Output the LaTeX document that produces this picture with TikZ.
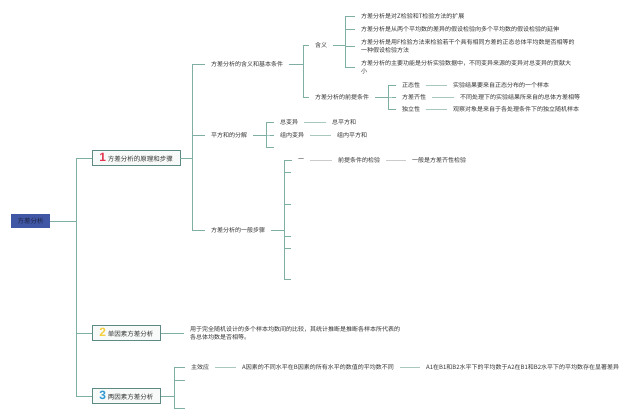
\documentclass[tikz,border=0pt]{standalone}
\usepackage{fontspec}
\setmainfont{Noto Sans CJK SC}
\newfontfamily\numfont{Liberation Sans}
\definecolor{txt}{HTML}{333333}
\definecolor{brc}{HTML}{7FAEA3}
\definecolor{pairc}{HTML}{A8C8BF}
\definecolor{greyc}{HTML}{C9CCCB}
\definecolor{boxc}{HTML}{5E8A84}
\definecolor{boxf}{HTML}{F7FAF9}
\definecolor{rootf}{HTML}{4057A6}
\definecolor{roott}{HTML}{1C2340}
\definecolor{numr}{HTML}{E2344E}
\definecolor{numy}{HTML}{F4D03F}
\definecolor{numb}{HTML}{2E98D4}
\begin{document}
\begin{tikzpicture}[x=1pt,y=-1pt,
  leaf/.style={anchor=west, inner xsep=6pt, inner ysep=1pt, font=\fontsize{6}{7.8}\selectfont, text=txt, align=left},
  mainbox/.style={draw=boxc, fill=boxf, line width=0.6pt, anchor=west, minimum height=15pt, inner xsep=7pt, inner ysep=0pt, font=\fontsize{6.5}{7}\selectfont, text=txt},
  rootbox/.style={fill=rootf, minimum width=39pt, minimum height=14pt, inner sep=0pt, font=\fontsize{6.5}{7}\selectfont, text=roott},
  br/.style={draw=brc, line width=0.7pt},
  sub/.style={draw=brc, line width=0.5pt},
  pair/.style={draw=pairc, line width=0.5pt},
  gline/.style={draw=greyc, line width=0.6pt}]
\useasboundingbox (0,0) rectangle (640,419);
\fill[white] (0,0) rectangle (640,419);

% root and main nodes
\node[rootbox] (root) at (30.5,221) {方差分析};
\node[mainbox] (n1) at (92,158) {{\color{numr}\numfont\fontsize{12}{12}\selectfont\bfseries 1}\hspace{2pt}方差分析的原理和步骤};
\node[mainbox] (n2) at (92,333) {{\color{numy}\numfont\fontsize{12}{12}\selectfont\bfseries 2}\hspace{2pt}单因素方差分析};
\node[mainbox] (n3) at (92,396) {{\color{numb}\numfont\fontsize{12}{12}\selectfont\bfseries 3}\hspace{2pt}两因素方差分析};
\draw[br] (root.east) -- ++(26,0) |- (n1.west);
\draw[br] (root.east) -- ++(26,0) |- (n2.west);
\draw[br] (root.east) -- ++(26,0) |- (n3.west);

% level 2 under node 1
\node[leaf] (a1) at (205,64) {方差分析的含义和基本条件};
\node[leaf] (b1) at (205,135) {平方和的分解};
\node[leaf] (c1) at (205,230) {方差分析的一般步骤};
\draw[br] (n1.east) -- ++(12,0) |- (a1.west);
\draw[br] (n1.east) -- ++(12,0) |- (b1.west);
\draw[br] (n1.east) -- ++(12,0) |- (c1.west);

% 含义 and 前提条件
\node[leaf] (h) at (309,45) {含义};
\node[leaf] (q) at (309,97) {方差分析的前提条件};
\draw[sub] (a1.east) -- ++(14,0) |- (h.west);
\draw[sub] (a1.east) -- ++(14,0) |- (q.west);

\node[leaf] (h1) at (355,16) {方差分析是对Z检验和T检验方法的扩展};
\node[leaf] (h2) at (355,29) {方差分析是从两个平均数的差异的假设检验向多个平均数的假设检验的延伸};
\node[leaf] (h3) at (355,46.5) {方差分析是用F检验方法来检验若干个具有相同方差的正态总体平均数是否相等的\\一种假设检验方法};
\node[leaf] (h4) at (355,67) {方差分析的主要功能是分析实验数据中，不同变异来源的变异对总变异的贡献大\\小};
\draw[sub] (h.east) -- ++(12,0) |- (h1.west);
\draw[sub] (h.east) -- ++(12,0) |- (h2.west);
\draw[sub] (h.east) -- ++(12,0) |- (h3.west);
\draw[sub] (h.east) -- ++(12,0) |- (h4.west);

\node[leaf] (q1) at (396,85) {正态性};
\node[leaf] (q2) at (396,97) {方差齐性};
\node[leaf] (q3) at (396,109) {独立性};
\draw[sub] (q.east) -- ++(13,0) |- (q1.west);
\draw[sub] (q.east) -- ++(13,0) |- (q2.west);
\draw[sub] (q.east) -- ++(13,0) |- (q3.west);
\node[leaf] (v1) at (447,85) {实验结果要来自正态分布的一个样本};
\node[leaf] (v2) at (454,97) {不同处理下的实验结果所来自的总体方差相等};
\node[leaf] (v3) at (447,109) {观察对象是来自于各处理条件下的独立随机样本};
\draw[pair] (q1.east) -- (v1.west);
\draw[pair] (q2.east) -- (v2.west);
\draw[pair] (q3.east) -- (v3.west);

% 平方和的分解
\node[leaf] (s1) at (274,122) {总变异};
\node[leaf] (s2) at (274,135) {组内变异};
\coordinate (s3) at (274,147);
\draw[sub] (b1.east) -- ++(13,0) |- (s1.west);
\draw[sub] (b1.east) -- ++(13,0) |- (s2.west);
\draw[sub] (b1.east) -- ++(13,0) |- (s3);
\node[leaf] (t1) at (326,122) {总平方和};
\node[leaf] (t2) at (331,135) {组内平方和};
\draw[pair] (s1.east) -- (t1.west);
\draw[pair] (s2.east) -- (t2.west);

% 一般步骤
\node[leaf] (k1) at (292,160) {一};
\coordinate (k2) at (291,172);
\coordinate (k3) at (291,204);
\coordinate (k4) at (291,236);
\coordinate (k5) at (291,248);
\coordinate (k6) at (291,279);
\draw[sub] (c1.east) -- ++(13,0) |- (k1.west);
\foreach \k in {k2,k3,k4,k5,k6} \draw[sub] (c1.east) -- ++(13,0) |- (\k);
\node[leaf] (m1) at (332,160) {前提条件的检验};
\node[leaf] (m2) at (406,160) {一般是方差齐性检验};
\draw[gline] (k1.east) -- (m1.west);
\draw[gline] (m1.east) -- (m2.west);

% node 2 leaf
\node[leaf] (l2) at (184,333) {用于完全随机设计的多个样本均数间的比较，其统计推断是推断各样本所代表的\\各总体均数是否相等。};
\draw[sub] (n2.east) -- (l2.west);

% node 3
\node[leaf] (z1) at (185,367) {主效应};
\coordinate (z2) at (185,380);
\coordinate (z3) at (185,408);
\draw[sub] (n3.east) -- ++(13,0) |- (z1.west);
\draw[sub] (n3.east) -- ++(13,0) |- (z2);
\draw[sub] (n3.east) -- ++(13,0) |- (z3);
\node[leaf] (z4) at (236,367) {A因素的不同水平在B因素的所有水平的数值的平均数不同};
\node[leaf] (z5) at (420,367) {A1在B1和B2水平下的平均数于A2在B1和B2水平下的平均数存在显著差异};
\draw[pair] (z1.east) -- (z4.west);
\draw[pair] (z4.east) -- (z5.west);
\end{tikzpicture}
\end{document}
